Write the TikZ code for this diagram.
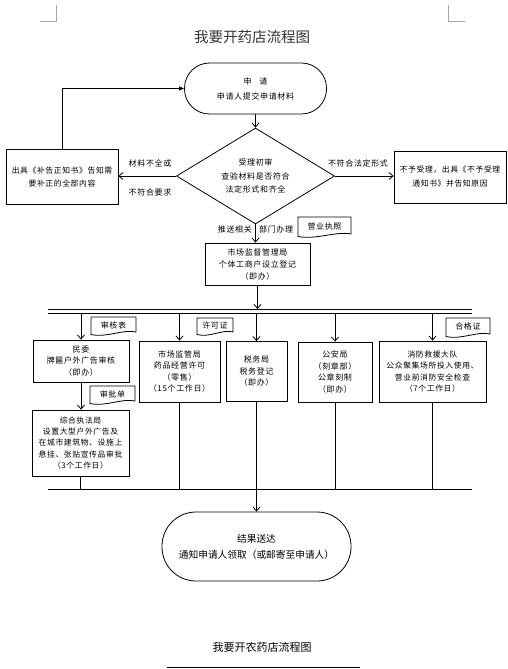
\documentclass[tikz,border=0pt]{standalone}
\usepackage{fontspec}
\setmainfont{Noto Sans CJK SC}
\newfontfamily\spaced[LetterSpace=8]{Noto Sans CJK SC}
\usetikzlibrary{arrows.meta,shapes.geometric}
\tikzset{
  box/.style={draw, line width=0.8pt, align=center, inner sep=1pt, font=\spaced\fontsize{8}{11.5}\selectfont},
  term/.style={box, rounded corners=25pt},
  arr/.style={line width=0.8pt, -{Straight Barb[length=4pt,width=7pt]}},
  lnk/.style={line width=0.8pt},
  lbl/.style={font=\spaced\fontsize{8}{10}\selectfont, inner sep=0pt},
  tagtxt/.style={font=\spaced\fontsize{8}{10}\selectfont, inner sep=0pt},
  tagline/.style={line width=0.8pt},
  cornermark/.style={draw=gray!70, line width=0.6pt}
}
\newcommand{\tagshape}[6]{%
  \draw[tagline] (#1,#2) -- (#3,#2) -- (#3,#4-1)
    .. controls ({#3-0.3*(#3-#1)},{#4-4}) and ({#1+0.35*(#3-#1)},{#4+5}) .. (#1,{#4+1.5}) -- cycle;
  \node[tagtxt] (#6) at ({(#1+#3)/2},{(#2+#4)/2}) {#5};
}
\begin{document}
\begin{tikzpicture}[x=1pt,y=-1pt]
\useasboundingbox (0,0) rectangle (507,669);
% corner marks
\draw[cornermark] (40,21) -- (56,21) -- (56,5);
\draw[cornermark] (448,5) -- (448,21) -- (465,21);
% title
\node[font=\fontsize{14.5}{16}\selectfont, text=black!80, inner sep=0pt] (title) at (252,37) {我要开药店流程图};
% start
\node[term, minimum width=142pt, minimum height=51pt, font=\spaced\fontsize{8}{15}\selectfont] (start) at (255.5,88.5) {申\quad 请\\申请人提交申请材料};
% diamond
\node[diamond, draw, line width=0.8pt, minimum width=158pt, minimum height=96pt, inner sep=0pt] (d) at (255.5,176) {};
\node[align=center, font=\spaced\fontsize{8}{13.5}\selectfont, inner sep=0pt] (dtxt) at (d) {受理初审\\查验材料是否符合\\法定形式和齐全};
% left box
\node[box, minimum width=112pt, minimum height=55pt, font=\spaced\fontsize{7.8}{13}\selectfont] (lbox) at (62,177) {出具《补告正知书》告知需\\要补正的全部内容};
% right box
\node[box, minimum width=112pt, minimum height=52pt, font=\spaced\fontsize{7.8}{14}\selectfont] (rbox) at (450,177) {不予受理，出具《不予受理\\通知书》并告知原因};
% middle box
\node[box, minimum width=105pt, minimum height=42pt, font=\spaced\fontsize{8}{12}\selectfont] (mbox) at (257.5,264) {市场监督管理局\\个体工商户设立登记\\（即办）};
% connectors top part
\draw[arr] (start.south) -- (d.north);
\draw[arr] (d.west) -- (d.west -| lbox.east);
\draw[lnk, -{Triangle[length=5pt,width=4pt]}] (lbox.north) |- (start.west);
\draw[arr] (d.east) -- (d.east -| rbox.west);
\draw[arr] (d.south) -- (d.south |- mbox.north);
\node[lbl] (l1) at (150,163) {材料不全或};
\node[lbl] (l2) at (150,192) {不符合要求};
\node[lbl] (l3) at (358,163) {不符合法定形式};
\node[lbl, anchor=east] (l4) at (252,229) {推送相关};
\node[lbl, anchor=west] (l5) at (259,229) {部门办理};
\tagshape{298}{217}{351}{235}{营业执照}{t0}
% bus lines
\coordinate (busAL) at (48,309);
\coordinate (busAR) at (472,309);
\coordinate (busBL) at (48,313);
\coordinate (busBR) at (472,313);
\draw[lnk] (busAL) -- (busAR);
\draw[lnk] (busBL) -- (busBR);
\draw[arr] (mbox.south) -- (mbox.south |- busAL);
% branch boxes
\node[box, minimum width=96pt, minimum height=42pt] (b1) at (81,361) {民委\\牌匾户外广告审核\\（即办）};
\node[box, minimum width=81pt, minimum height=61pt] (b2) at (179.5,371.5) {市场监管局\\药品经营许可\\（零售）\\（15个工作日）};
\node[box, minimum width=61pt, minimum height=60pt] (b3) at (256.5,371.5) {税务局\\税务登记\\（即办）};
\node[box, minimum width=74pt, minimum height=60pt] (b4) at (335,372) {公安局\\（刻章部）\\公章刻制\\（即办）};
\node[box, minimum width=107pt, minimum height=61pt, font=\spaced\fontsize{7.8}{11.5}\selectfont] (b5) at (432.5,371.5) {消防救援大队\\公众聚集场所投入使用、\\营业前消防安全检查\\（7个工作日）};
\node[box, minimum width=97pt, minimum height=66pt, font=\spaced\fontsize{7.8}{11.2}\selectfont] (b6) at (80.5,443) {综合执法局\\设置大型户外广告及\\在城市建筑物、设施上\\悬挂、张贴宣传品审批\\（3个工作日）};
\foreach \b in {b1,b2,b3,b4,b5}{\draw[arr] (\b.north |- busBL) -- (\b.north);}
\draw[arr] (b1.south) -- (b6.north -| b1.south);
\tagshape{91}{317}{136}{333}{审核表}{t1}
\tagshape{197}{318}{233}{333}{许可证}{t2}
\tagshape{90}{386}{135}{402}{审批单}{t3}
\tagshape{446}{318}{490}{335}{合格证}{t4}
% bottom line
\coordinate (botL) at (48,489);
\coordinate (botR) at (472,489);
\draw[lnk] (botL) -- (botR);
\foreach \b in {b6,b2,b3,b4,b5}{\draw[lnk] (\b.south) -- (\b.south |- botL);}
% end
\node[box, rounded corners=34pt, minimum width=189pt, minimum height=69pt, font=\fontsize{9.7}{16}\selectfont] (endn) at (256.5,546.5) {结果送达\\通知申请人领取（或邮寄至申请人）};
\draw[arr] (endn.north |- botL) -- (endn.north);
% footer
\node[font=\fontsize{11}{13}\selectfont, inner sep=0pt] (foot) at (262,647) {我要开农药店流程图};
\coordinate (ulL) at (167,667);
\coordinate (ulR) at (360,667);
\draw[lnk] (ulL) -- (ulR);
\end{tikzpicture}
\end{document}
